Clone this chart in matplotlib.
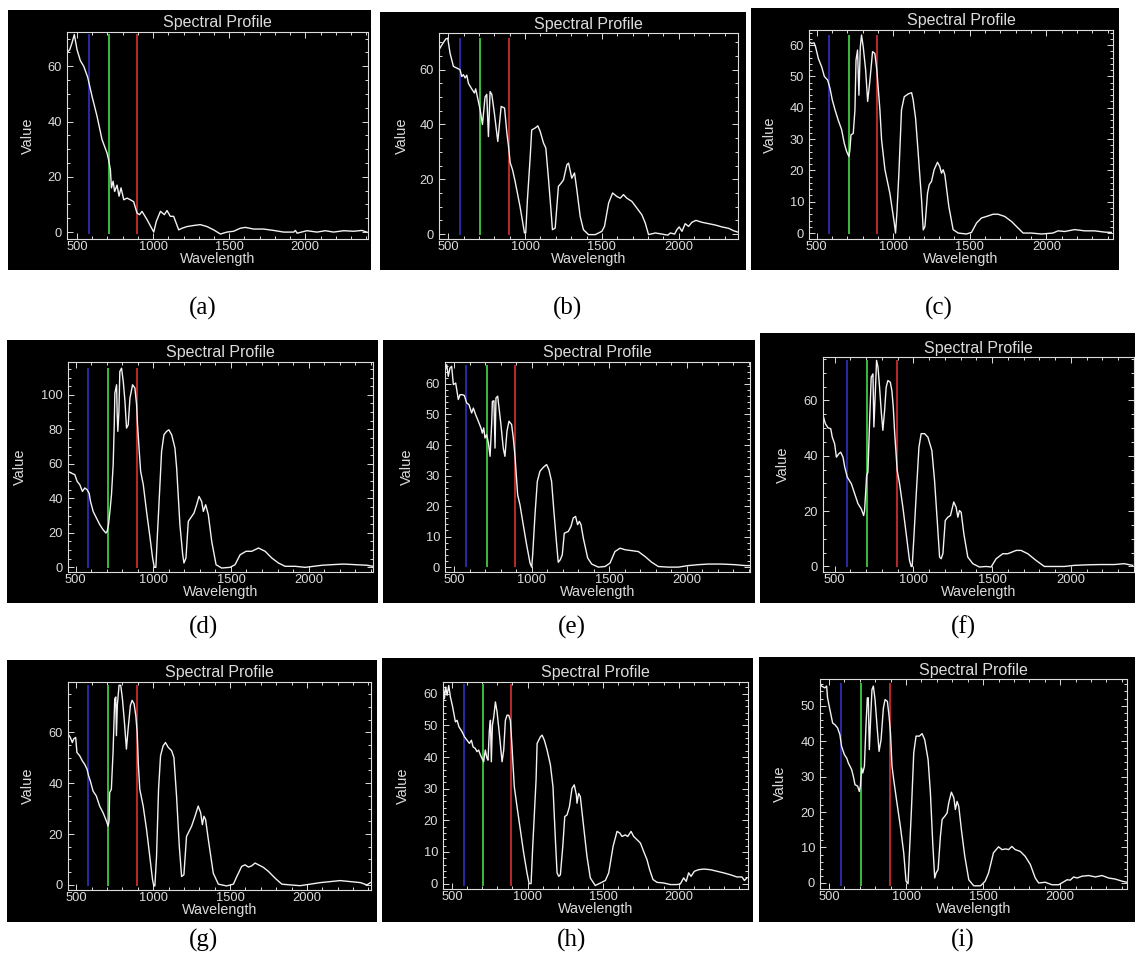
import matplotlib
matplotlib.use("Agg")
import matplotlib.pyplot as plt
from matplotlib.ticker import MultipleLocator, FixedLocator
from matplotlib import font_manager

# ---------------- data (wavelength, value) ----------------
wl_a = [434, 452, 467, 482, 500, 522, 544, 570, 599, 631, 664, 697, 708, 719, 726, 737, 747, 763, 776, 789,
        807, 829, 850, 872, 894, 911, 927, 960, 1004, 1021, 1048, 1074, 1091, 1113, 1135, 1168, 1190, 1223,
        1267, 1310, 1354, 1398, 1442, 1485, 1529, 1573, 1606, 1661, 1726, 1792, 1858, 1924, 1935, 1946, 2011,
        2077, 2132, 2186, 2252, 2317, 2372, 2405]
val_a = [65, 66, 68.5, 71.5, 66, 62, 60, 56, 49, 42, 33.5, 28.6, 26, 22.6, 16, 18.4, 14.7, 17, 13, 16,
         11.7, 12.3, 11.7, 11, 6.9, 6.3, 7.5, 4.5, 0, 3.9, 7.5, 6.3, 7.8, 5.7, 5.7, 0.8, 1.4, 2,
         2.4, 2.7, 2, 0.8, -0.7, 0, 0.3, 1.4, 1.7, 1.1, 1.1, 0.6, 0, 0, 0.6, -0.4, 0.5,
         0, 0.5, 0, 0.5, 0.3, 0.6, 0]

wl_b = [439, 457, 483, 496, 511, 533, 555, 576, 587, 598, 609, 620, 631, 652, 670, 678, 691, 707, 722, 739,
        750, 761, 772, 783, 800, 822, 844, 866, 881, 892, 903, 918, 935, 967, 996, 1004, 1015, 1033, 1043,
        1065, 1083, 1098, 1120, 1135, 1152, 1170, 1178, 1196, 1217, 1235, 1250, 1272, 1283, 1304, 1322,
        1337, 1359, 1380, 1413, 1457, 1500, 1517, 1544, 1570, 1583, 1598, 1620, 1641, 1663, 1696, 1728,
        1761, 1783, 1804, 1848, 1891, 1930, 1946, 1974, 1989, 2004, 2022, 2043, 2065, 2087, 2113, 2152,
        2196, 2239, 2283, 2326, 2359, 2387]
val_b = [67.3, 69, 71.2, 71.5, 66, 61.2, 60.6, 60, 57.5, 58.2, 57, 58, 55, 53, 51.5, 53, 49.6, 45.4, 40, 50,
         51, 35.6, 52, 51, 44, 33.8, 46.6, 46, 37, 32, 26, 23.5, 19.2, 10, 0.4, 0.4, 12.5, 28, 38,
         38.7, 39.5, 37.5, 33.2, 31.4, 20.4, 7.7, 1.6, 2.2, 17.4, 18.6, 19.8, 25.3, 25.9, 20.4, 22.3,
         16.2, 6.4, 1.6, -0.2, -0.2, 1, 2.8, 11.3, 15, 14.4, 13.7, 13.1, 14.4, 13.1, 11.9, 9.5,
         7, 4, -0.2, 0.4, 0, -0.4, 0.4, 0, 1.6, 2.6, 1, 3.8, 2.8, 4.3, 5, 4.3,
         3.8, 3.3, 2.6, 2.1, 1.2, 0.7]

wl_c = [450, 467, 483, 493, 511, 533, 550, 572, 587, 602, 620, 641, 663, 680, 696, 711, 717, 724, 739, 750,
        757, 767, 776, 785, 793, 804, 820, 833, 848, 865, 880, 893, 902, 913, 924, 946, 978, 1007, 1015,
        1024, 1037, 1054, 1072, 1098, 1120, 1130, 1146, 1163, 1185, 1196, 1207, 1224, 1235, 1250, 1267,
        1289, 1304, 1315, 1326, 1337, 1363, 1391, 1424, 1478, 1511, 1544, 1576, 1609, 1652, 1685, 1728,
        1772, 1815, 1848, 1902, 1968, 2043, 2076, 2120, 2185, 2250, 2315, 2380, 2424]
val_c = [61, 60.5, 60.7, 59.4, 55.7, 53, 50, 48.8, 46.2, 42.5, 39.3, 36, 33, 28.7, 26, 24.4, 26.5, 31.3, 31.8, 39.3,
         55.2, 58.4, 44, 59.4, 63.2, 59.4, 52, 42, 48.8, 57.9, 57.3, 52, 46.2, 39.3, 29.7, 20.2, 12.7, 3.2, 0,
         6.4, 19.1, 39.3, 43.5, 44.4, 44.8, 42.5, 36.6, 25.5, 10.6, 1, 2.1, 12.7, 15.4, 16.5, 20.2,
         22.6, 21.2, 19.1, 20.2, 18.6, 8.5, 1.1, 0, -0.3, 0.2, 3.2, 4.8, 5.3, 6, 6, 5.3,
         3.7, 1.6, 0, 0, -0.3, 0, 0.7, 0.5, 1.1, 0.7, 0.7, 0.3, 0.2]

wl_d = [450, 472, 494, 509, 526, 543, 558, 573, 586, 595, 612, 633, 655, 676, 694, 702, 711, 720, 730, 741,
        748, 752, 763, 767, 771, 778, 784, 795, 806, 817, 827, 838, 849, 866, 881, 892, 898, 909, 918, 935,
        956, 976, 995, 1006, 1016, 1025, 1038, 1053, 1068, 1085, 1100, 1118, 1139, 1150, 1171, 1189, 1197,
        1210, 1225, 1240, 1262, 1279, 1294, 1311, 1322, 1337, 1354, 1376, 1404, 1440, 1494, 1526, 1559,
        1597, 1634, 1677, 1720, 1763, 1806, 1849, 1914, 1978, 2032, 2086, 2140, 2226, 2312, 2377, 2415]
val_d = [55.6, 54.6, 53.7, 49.8, 47.9, 44, 46, 45, 43, 38.2, 32.4, 28.6, 24.7, 21.8, 19.9, 20.8, 24.7, 32.4, 42, 59.5,
         82.6, 101, 105.8, 88.4, 78.8, 90.3, 113.5, 115.4, 107.7, 96.1, 80.7, 82.6, 98, 105.8, 103.9, 94.2, 82.6,
         67.2, 55.6, 47.9, 32.4, 18.9, 5.4, 0, 0, 17, 40.2, 67.2, 76.8, 78.8, 79.7, 76.8, 69.1, 57.5, 24.7, 7.3,
         2.5, 5.4, 26.6, 28.6, 31.5, 36.3, 41.1, 38.2, 32.4, 36.3, 30.5, 15, 1.5, -0.4, 0, 1.5, 7.3,
         9.3, 9.3, 11.2, 9.3, 5.4, 2.5, 0.6, 0.6, 0, 0.6, 1.2, 1.5, 1.9, 1.5, 1.2, 0.6]

wl_e = [440, 451, 461, 472, 483, 494, 509, 526, 537, 552, 565, 580, 595, 612, 623, 638, 655, 672, 681, 690,
        698, 709, 720, 731, 741, 746, 756, 763, 769, 780, 789, 801, 816, 827, 840, 853, 870, 881, 892, 900,
        909, 924, 945, 967, 989, 1000, 1006, 1021, 1036, 1053, 1075, 1096, 1111, 1128, 1143, 1161, 1171,
        1184, 1197, 1210, 1236, 1253, 1268, 1283, 1296, 1307, 1318, 1333, 1361, 1387, 1430, 1473, 1505,
        1537, 1570, 1602, 1645, 1688, 1731, 1774, 1817, 1882, 1946, 2011, 2075, 2140, 2226, 2312, 2377, 2409]
val_e = [64.2, 66.3, 62.5, 65.2, 65.8, 59.8, 60.3, 54.9, 56.5, 56.5, 56.2, 53.8, 53.2, 50.5, 52.1, 49.9, 47.8, 45.6,
         43.9, 45.6, 42.3, 43.4, 40.7, 36.3, 46.7, 54.3, 54.5, 39, 55.4, 56, 52.1, 46.7, 39, 36.3, 44.5, 47.8,
         46.7, 42.3, 36.3, 30.3, 23.7, 20.4, 13.9, 7.3, 1.3, 0, 4, 17.2, 28.1, 31.4, 32.7, 33.6, 31.9, 28.1,
         18.3, 7.3, 1.6, 2.4, 4, 11.1, 11.7, 13.3, 16.1, 16.6, 13.9, 15, 13.9, 9.5, 3, 1, 0, 0.2, 1.3,
         5.1, 6.2, 5.7, 5.4, 5.1, 3.5, 1.6, 0.2, 0, 0, 0.5, 0.8, 1, 1, 0.8, 0.5, 0.5]

wl_f = [426, 441, 458, 475, 485, 500, 511, 526, 538, 553, 564, 580, 606, 627, 648, 669, 684, 690, 697, 703,
        711, 722, 732, 743, 749, 756, 766, 775, 785, 796, 806, 817, 827, 838, 853, 863, 872, 880, 887, 897,
        912, 933, 954, 975, 986, 992, 1003, 1018, 1035, 1049, 1071, 1092, 1117, 1134, 1151, 1166, 1176,
        1187, 1202, 1218, 1235, 1256, 1271, 1282, 1292, 1303, 1320, 1345, 1377, 1419, 1461, 1493, 1525,
        1567, 1599, 1652, 1683, 1726, 1778, 1831, 1895, 1958, 2021, 2106, 2190, 2275, 2338, 2391]
val_f = [54.6, 51.6, 50.1, 49.8, 46.7, 44.3, 39.5, 40.7, 41.3, 39.5, 35.9, 32.3, 29.9, 26.3, 22.7, 20.8, 18.4, 20.2,
         26.9, 32.9, 34.1, 52.8, 68.4, 69.6, 50.4, 60, 74.5, 72, 64.8, 55.8, 49.2, 56.4, 64.8, 67.2, 66.6, 63.6,
         57.6, 49.2, 43.1, 34.7, 29.9, 21.4, 11.8, 2.2, 0, 0, 10.6, 26.3, 43.1, 48, 48, 46.7, 41.9, 31.1,
         16.6, 3.4, 2.8, 4.6, 16.6, 17.8, 18.4, 23.3, 21.4, 17.8, 20.2, 19.6, 11.8, 3.4, 1, -0.2, 0, -0.2,
         2.8, 4.6, 4.6, 5.8, 5.8, 4.6, 2.2, 0, 0, 0, 0.4, 0.6, 0.7, 0.7, 1, 0.4]

wl_g = [446, 461, 474, 483, 496, 504, 522, 539, 554, 570, 580, 591, 609, 630, 652, 674, 696, 707, 713, 717,
        728, 739, 750, 757, 761, 767, 778, 789, 800, 813, 826, 837, 852, 863, 876, 887, 896, 904, 913, 935,
        957, 978, 996, 1004, 1011, 1022, 1035, 1048, 1065, 1080, 1098, 1120, 1135, 1152, 1170, 1185, 1200,
        1217, 1228, 1250, 1272, 1293, 1309, 1320, 1330, 1341, 1359, 1391, 1424, 1478, 1522, 1544, 1576,
        1598, 1620, 1641, 1663, 1685, 1717, 1750, 1794, 1837, 1891, 1957, 2022, 2087, 2152, 2217, 2283,
        2348, 2391, 2413]
val_g = [59.4, 58, 56, 57.4, 58, 52.1, 50.8, 48.8, 47.5, 45.5, 42.9, 40.9, 36.9, 35, 31, 28.4, 25.1, 23.1, 25.1,
         36.3, 37.6, 52.1, 73.2, 73.9, 58.7, 70.6, 78.5, 78.5, 73.2, 64, 53.4, 61.3, 70.6, 72.6, 71.2, 66.6,
         60, 46.8, 37.6, 31, 21.8, 11.2, 2, -0.4, -0.4, 11.2, 37.6, 50.8, 54.7, 56, 54.1, 52.8, 50.1, 35,
         15.2, 3.3, 4, 19.1, 20.4, 23.1, 27, 31, 28.4, 23.7, 27, 25.7, 17.8, 4.6, 0.3, -0.4, 0.3, 3.3,
         7.3, 7.9, 7, 7.5, 8.6, 7.9, 6.9, 5.3, 2.6, 0.3, 0, -0.3, 0.3, 0.9, 1.3, 1.7, 1.3, 0.9, 0, 0.9]

wl_h = [440, 449, 458, 467, 478, 489, 504, 522, 533, 546, 566, 582, 599, 615, 628, 639, 654, 665, 676, 688,
        698, 709, 720, 731, 738, 747, 754, 760, 767, 776, 787, 798, 815, 831, 842, 853, 864, 875, 886, 897,
        903, 912, 930, 952, 974, 996, 1010, 1023, 1034, 1045, 1056, 1063, 1085, 1096, 1111, 1129, 1151,
        1168, 1184, 1195, 1206, 1217, 1233, 1246, 1261, 1277, 1294, 1309, 1323, 1327, 1338, 1349, 1371,
        1393, 1415, 1448, 1482, 1515, 1537, 1566, 1592, 1610, 1625, 1647, 1663, 1685, 1702, 1724, 1747,
        1768, 1790, 1808, 1830, 1857, 1901, 1945, 1989, 2011, 2033, 2050, 2066, 2082, 2104, 2132, 2166,
        2210, 2254, 2298, 2342, 2386, 2419, 2435, 2452]
val_h = [63.2, 58.4, 62.1, 59.5, 62.6, 59, 55.8, 51.1, 51.6, 49.5, 48, 46.4, 45.3, 44.3, 45.3, 43.2, 42.7, 41.7,
         42.2, 40.6, 39.6, 38.5, 42.2, 39.6, 39, 48.5, 51.6, 38.5, 50, 52.7, 57.4, 54.2, 46.4, 38.5, 42.2, 51.6,
         53.2, 53.2, 51.6, 43.2, 38, 30.6, 24.3, 17, 9.7, 3.4, 0, 0, 11.8, 22.2, 32.7, 44.3, 46.4, 46.9,
         45.3, 42.2, 37.5, 30.6, 13.9, 3.4, 2.3, 2.8, 11.8, 21.2, 21.7, 24.3, 30.1, 31.2, 28, 25.4, 28.5,
         27.5, 18, 8.6, 1.8, -0.6, 0.2, 1, 3.4, 11.8, 16.5, 16, 14.9, 15.4, 14.9, 16.5, 14.9, 13.9, 12.8,
         10.2, 7.6, 4.4, 1.3, 0.4, 0.2, -0.3, -0.3, -0.1, 1.8, 0.7, 3.4, 2.3, 3.9, 4.4, 4.6,
         4.4, 3.9, 3.4, 2.8, 2.1, 2.1, 1, 1.8]

wl_i = [442, 452, 474, 485, 491, 506, 524, 539, 556, 571, 582, 600, 615, 626, 647, 658, 669, 686, 697, 704,
        712, 719, 730, 740, 749, 755, 762, 771, 779, 788, 799, 812, 825, 838, 853, 864, 879, 890, 899, 909,
        920, 941, 963, 985, 1000, 1013, 1022, 1035, 1050, 1065, 1087, 1104, 1121, 1143, 1158, 1173, 1186,
        1195, 1208, 1223, 1234, 1251, 1266, 1277, 1294, 1310, 1320, 1331, 1342, 1359, 1381, 1407, 1439,
        1483, 1513, 1535, 1567, 1600, 1622, 1647, 1665, 1686, 1708, 1741, 1773, 1806, 1838, 1860, 1903,
        1946, 1990, 2022, 2044, 2065, 2087, 2109, 2141, 2184, 2228, 2271, 2314, 2357, 2401, 2433]
val_i = [56.4, 55.5, 55, 55.5, 52.2, 48.9, 45.1, 44.6, 43.7, 41.8, 38.5, 36.2, 35.2, 33.8, 32, 30.1, 27.7, 27.3,
         25.8, 27.3, 32.4, 31, 32.9, 44.2, 52.2, 52.2, 37.6, 47, 54.5, 55.5, 51.7, 44.2, 37.1, 40.4, 49.3, 51.7,
         51.2, 47, 42.3, 32.9, 29.1, 22.6, 16, 8.5, 0.5, -0.2, 8.5, 20.7, 36.7, 41.4, 41.4, 42.1, 40.4, 34.8,
         25.4, 11.3, 1.4, 2.8, 3.8, 13.2, 17.9, 18.8, 19.7, 22.6, 25.6, 24, 20.7, 23, 21.6, 15, 7.5, 0.9,
         -0.8, -0.8, 0.5, 2.8, 8.5, 10.2, 9.4, 9.6, 9.4, 10.3, 9.4, 8.9, 7.5, 5.2, 1.4, 0, 0.2, -0.5,
         -0.5, 0.3, 0.9, 0.8, 1.7, 1.4, 1.9, 2.1, 1.7, 2.1, 1.4, 1.1, 0.5, 0.2]

panel_labels = ["(a)", "(b)", "(c)", "(d)", "(e)", "(f)", "(g)", "(h)", "(i)"]
series = [(wl_a, val_a), (wl_b, val_b), (wl_c, val_c), (wl_d, val_d), (wl_e, val_e),
          (wl_f, val_f), (wl_g, val_g), (wl_h, val_h), (wl_i, val_i)]
x_ticks = [500, 1000, 1500, 2000]
band_wl = [578, 708, 893]
band_colors = ["#2a2aa8", "#3cba3c", "#bb2a2a"]

# ---------------- layout (pixels, top-left origin) ----------------
W, H = 1135, 957
outer = [(8, 10, 371, 270), (380, 12, 746, 270), (751, 8, 1119, 270),
         (7, 340, 378, 603), (383, 340, 755, 603), (760, 333, 1135, 603),
         (7, 660, 377, 922), (382, 658, 753, 922), (759, 657, 1135, 922)]
inner = [(67, 32, 368, 239), (439, 33, 738, 239), (809, 30, 1113, 239),
         (68, 362, 373, 572), (445, 362, 750, 572), (823, 357, 1134, 572),
         (68, 682, 371, 890), (443, 682, 748, 889), (820, 679, 1127, 889)]
xlims = [(434, 2412), (439, 2387), (450, 2435), (450, 2415), (440, 2409),
         (426, 2400), (446, 2417), (440, 2459), (442, 2433)]
ylims = [(-2.5, 72.4), (-1.8, 73.4), (-1.9, 64.8), (-2.7, 119), (-1.6, 67.2),
         (-2, 75.7), (-2, 79.8), (-1.7, 63.7), (-1.7, 57.5)]
ysteps = [(20, 5), (20, 5), (10, 2), (20, 5), (10, 2), (20, 5), (20, 5), (10, 2), (10, 2)]
ylab_off = [39, 37, 39, 48, 38, 40, 40, 40, 40]
label_pos = [(203, 308), (568, 308), (939, 308), (204, 627), (572, 627), (963, 627),
             (204, 940), (572, 940), (963, 940)]

avail = {f.name for f in font_manager.fontManager.ttflist}
SANS = "Liberation Sans Narrow" if "Liberation Sans Narrow" in avail else "Liberation Sans"
SERIF = "Liberation Serif"
TXT = "#dcdcdc"

fig = plt.figure(figsize=(W / 100, H / 100), dpi=100)
fig.patch.set_facecolor("white")


def rect(x0, y0, x1, y1):
    return [x0 / W, 1 - y1 / H, (x1 - x0) / W, (y1 - y0) / H]


for k in range(9):
    wl, val = series[k]
    bg = fig.add_axes(rect(*outer[k]))
    bg.set_facecolor("black")
    bg.set_xticks([])
    bg.set_yticks([])
    for s in bg.spines.values():
        s.set_visible(False)

    ax = fig.add_axes(rect(*inner[k]))
    ax.set_facecolor("black")
    ax.vlines(band_wl, min(val), max(val), colors=band_colors, lw=1.4)
    ax.plot(wl, val, color="#f2f2f2", lw=1.0)
    ax.set_xlim(*xlims[k])
    ax.set_ylim(*ylims[k])
    ax.xaxis.set_major_locator(FixedLocator(x_ticks))
    ax.xaxis.set_minor_locator(MultipleLocator(100))
    ax.yaxis.set_major_locator(MultipleLocator(ysteps[k][0]))
    ax.yaxis.set_minor_locator(MultipleLocator(ysteps[k][1]))
    ax.tick_params(which="both", direction="in", top=True, right=True, color=TXT,
                   labelcolor=TXT, labelsize=9.3, width=0.7)
    ax.tick_params(which="major", length=4)
    ax.tick_params(which="minor", length=2)
    ax.tick_params(axis="x", pad=1.5)
    ax.tick_params(axis="y", pad=3.5)
    for lab in ax.get_xticklabels() + ax.get_yticklabels():
        lab.set_family(SANS)
    for s in ax.spines.values():
        s.set_color(TXT)
        s.set_linewidth(0.8)

    ax.annotate("Spectral Profile", xy=(0.5, 1), xycoords="axes fraction", xytext=(0, 9),
                textcoords="offset pixels", ha="center", va="center", color=TXT,
                family=SANS, fontsize=11.5)
    ax.annotate("Wavelength", xy=(0.5, 0), xycoords="axes fraction", xytext=(0, -20),
                textcoords="offset pixels", ha="center", va="center", color=TXT,
                family=SANS, fontsize=10.3)
    ax.annotate("Value", xy=(0, 0.5), xycoords="axes fraction", xytext=(-ylab_off[k], 0),
                textcoords="offset pixels", ha="center", va="center", color=TXT,
                family=SANS, fontsize=10.5, rotation=90)

    lx, ly = label_pos[k]
    fig.text(lx / W, 1 - ly / H, panel_labels[k], ha="center", va="center",
             family=SERIF, fontsize=18, color="black")

fig.savefig("out.png", dpi=100, facecolor="white")
